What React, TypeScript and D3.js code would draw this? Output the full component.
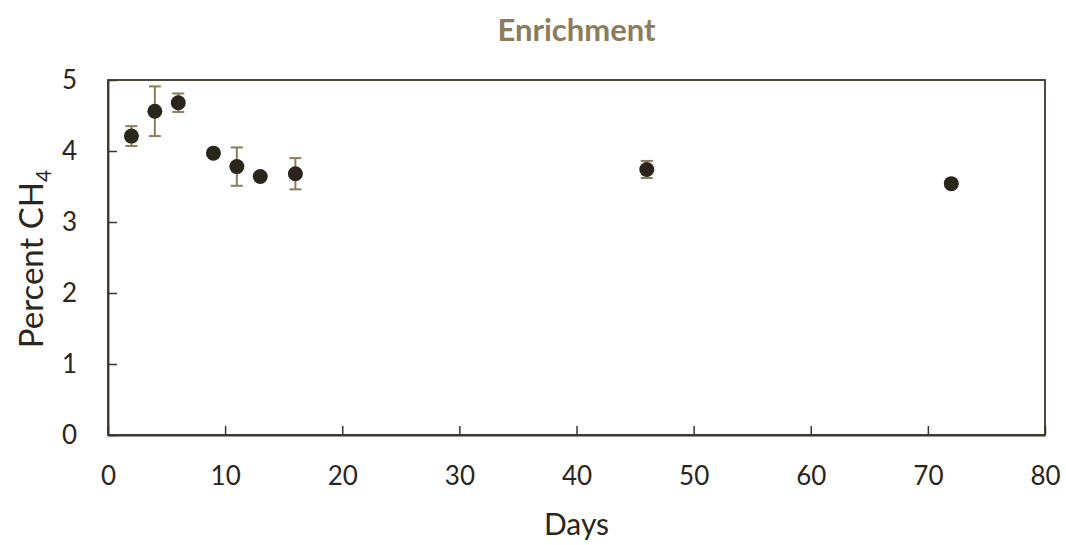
import React, { useEffect, useRef } from "react";
import * as d3 from "d3";

// Data
const days = [2, 4, 6, 9, 11, 13, 16, 46, 72];
const percentCH4 = [4.21, 4.56, 4.68, 3.97, 3.78, 3.64, 3.68, 3.74, 3.54];
const errors = [0.14, 0.35, 0.13, 0, 0.27, 0, 0.22, 0.12, 0];
const xTicks = [0, 10, 20, 30, 40, 50, 60, 70, 80];
const yTicks = [0, 1, 2, 3, 4, 5];

const W = 1066, H = 545;
const margin = { top: 80, right: 21, bottom: 110, left: 108 };
const axisColor = "#3b352b";
const tan = "#8b7d5c";
const dotColor = "#2b261c";
const font = "Lato, 'Open Sans', sans-serif";

export default function App() {
  const ref = useRef<SVGSVGElement>(null);

  useEffect(() => {
    const svg = d3.select(ref.current);
    svg.selectAll("*").remove();

    const x = d3.scaleLinear().domain([0, 80]).range([margin.left, W - margin.right]);
    const y = d3.scaleLinear().domain([0, 5]).range([H - margin.bottom, margin.top]);

    // frame
    svg.append("rect")
      .attr("x", x(0)).attr("y", y(5))
      .attr("width", x(80) - x(0)).attr("height", y(0) - y(5))
      .attr("fill", "none").attr("stroke", axisColor).attr("stroke-width", 1.8);

    // x axis
    const xa = svg.append("g")
      .attr("transform", "translate(0," + y(0) + ")")
      .call(d3.axisBottom(x).tickValues(xTicks).tickFormat(d3.format("d")).tickSize(-9).tickPadding(32).tickSizeOuter(0));
    xa.select(".domain").attr("stroke", axisColor).attr("stroke-width", 1.8);
    xa.selectAll(".tick line").attr("stroke", axisColor).attr("stroke-width", 1.5);
    xa.selectAll(".tick text")
      .attr("font-family", font).attr("font-size", 26).attr("fill", "#2b261c");

    // y axis
    const ya = svg.append("g")
      .attr("transform", "translate(" + x(0) + ",0)")
      .call(d3.axisLeft(y).tickValues(yTicks).tickFormat(d3.format("d")).tickSize(-9).tickPadding(31).tickSizeOuter(0));
    ya.select(".domain").attr("stroke", axisColor).attr("stroke-width", 1.8);
    ya.selectAll(".tick line").attr("stroke", axisColor).attr("stroke-width", 1.5);
    ya.selectAll(".tick text")
      .attr("font-family", font).attr("font-size", 26).attr("fill", "#2b261c");

    const pts = days.map((d, i) => ({ d, v: percentCH4[i], e: errors[i] }));

    // error bars
    const eb = svg.append("g").attr("stroke", tan).attr("stroke-width", 2);
    pts.filter(p => p.e > 0).forEach(p => {
      eb.append("line").attr("x1", x(p.d)).attr("x2", x(p.d))
        .attr("y1", y(p.v - p.e)).attr("y2", y(p.v + p.e));
      [p.v - p.e, p.v + p.e].forEach(v => {
        eb.append("line").attr("x1", x(p.d) - 6).attr("x2", x(p.d) + 6)
          .attr("y1", y(v)).attr("y2", y(v));
      });
    });

    // points
    svg.append("g").selectAll("circle")
      .data(pts)
      .join("circle")
      .attr("cx", p => x(p.d))
      .attr("cy", p => y(p.v))
      .attr("r", 7.5)
      .attr("fill", dotColor);

    // title
    svg.append("text")
      .attr("x", (x(0) + x(80)) / 2).attr("y", 41)
      .attr("text-anchor", "middle")
      .attr("font-family", font).attr("font-weight", "bold").attr("font-size", 31)
      .attr("fill", tan)
      .text("Enrichment");

    // x label
    svg.append("text")
      .attr("x", (x(0) + x(80)) / 2).attr("y", 535)
      .attr("text-anchor", "middle")
      .attr("font-family", font).attr("font-size", 30).attr("fill", "#2b261c")
      .text("Days");

    // y label
    const yl = svg.append("text")
      .attr("transform", "translate(43,259) rotate(-90)")
      .attr("text-anchor", "middle")
      .attr("font-family", font).attr("font-size", 33).attr("fill", "#2b261c");
    yl.append("tspan").text("Percent CH");
    yl.append("tspan").attr("font-size", 21).attr("dy", 8).text("4");
  }, []);

  return (
    <svg ref={ref} width={W} height={H}
      style={{ position: "absolute", left: 0, top: 0, background: "#fff" }} />
  );
}
